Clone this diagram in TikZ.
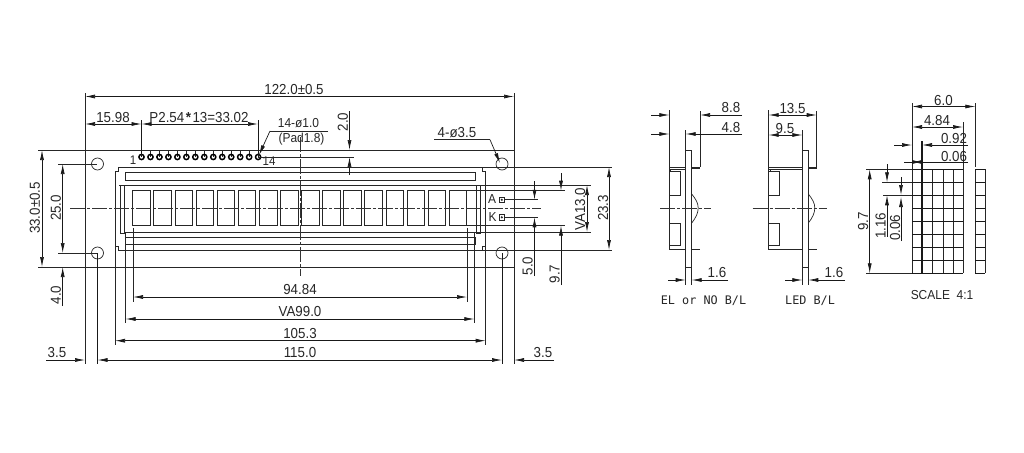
\documentclass[tikz,border=0pt]{standalone}
\usepackage{fontspec}
\setmainfont[FakeStretch=0.92]{Liberation Sans}
\newfontfamily\labelfont{DejaVu Sans Mono}
\usetikzlibrary {arrows.meta}
\tikzset{
  part/.style={line width=0.7pt, black!85},
  dimto/.style={line width=0.7pt, black!90, -{Latex[length=10pt,width=4pt]}},
  dimboth/.style={line width=0.7pt, black!90, {Latex[length=10pt,width=4pt]}-{Latex[length=10pt,width=4pt]}},
  centreline/.style={line width=0.6pt, black!80, dash pattern=on 15pt off 2pt on 3pt off 2pt},
  dimtext/.style={inner sep=0pt, black!85, font=\fontsize{14.5}{14.5}\selectfont},
  viewname/.style={inner sep=0pt, black!85, font=\labelfont\fontsize{11.8}{12}\selectfont}
}
\begin{document}
\begin{tikzpicture}[x=1pt,y=-1pt]
  \useasboundingbox (0,0) rectangle (1024,452);
  %front view
    \draw[part] (38,150) -- (514,150);
    \draw[part] (38,267) -- (514,267);
    \draw[part] (85,93) -- (85,364);
    \draw[part] (514,93) -- (514,364);
    \foreach \hx/\hy in {97.5/164, 502/164, 97.5/253, 502/253}
      \draw[part] (\hx,\hy) circle (6);
    \draw[part] (115,171) -- (118,171) -- (118,167) -- (612,167);
    \draw[part] (118,250) -- (118,246) -- (115,246) -- (115,171);
    \draw[part] (118,250) -- (612,250);
    \draw[part] (482,167) -- (482,171) -- (485.7,171) -- (485.7,246) -- (482,246) -- (482,250);
    \draw[part] (125.6,172) rectangle (475,180);
    \draw[part] (125.6,237) rectangle (475,244);
    \draw[part] (120,185) rectangle (124,233);
    \draw[part] (476,185) rectangle (480.5,233);
    \draw[part] (119,185) -- (591,185);
    \draw[part] (125.6,232) -- (591,232);
    \draw[part] (467,190.7) -- (565,190.7);
    \draw[part] (467,225.6) -- (565,225.6);
    \foreach \c in {0,...,15}
      \draw[part] ({132.7+\c*21.1},190.7) rectangle ++(17.6,34.9);
    \draw[centreline] (70,208) -- (541,208);
    \draw[centreline] (300,137) -- (300,276);
  %pins
    \foreach \p in {0,...,13} {
      \draw[part] ({141.5+\p*8.97},150) -- ++(0,7);
      \draw[line width=1.5pt, black] ({141.5+\p*8.97},157) circle (2.6);
    }
    \draw[part] (258,157) -- (354,157);
    \node[dimtext, font=\fontsize{12.5}{13}\selectfont] (pinfirst) at (133,160.5) {1};
    \node[dimtext, font=\fontsize{12.5}{13}\selectfont] (pinlast) at (269,161) {14};
  %backlight pads
    \node[dimtext, font=\fontsize{13}{13}\selectfont] (pada) at (492,199.5) {A};
    \node[dimtext, font=\fontsize{13}{13}\selectfont] (padk) at (492.5,217.5) {K};
    \foreach \py in {199.8, 217.3} {
      \draw[part] (499,\py-2.8) rectangle ++(5.6,5.6);
      \fill[black!85] (501.8,\py) circle (1.2);
      \draw[part] (504.6,\py) -- (538,\py);
    }
  %top dimensions
    \draw[dimboth] (85,96.5) -- (514,96.5);
    \node[dimtext] (lenall) at (294,89.5) {122.0±0.5};
    \draw[dimboth] (85,124) -- (141.5,124);
    \node[dimtext] (lenfirst) at (113,117.5) {15.98};
    \draw[dimboth] (141.5,124) -- (258,124);
    \node[dimtext] (lenpitch) at (199,117.5) {P2.54\kern1.5pt\textbf{*}\kern1.5pt13=33.02};
    \draw[line width=0.9pt, black!90] (141.5,120) -- (141.5,157);
    \draw[line width=0.9pt, black!90] (258,120) -- (258,157);
    \draw[part] (328,131) -- (270,131);
    \draw[dimto] (270,131) -- (259,155);
    \node[dimtext, font=\fontsize{13}{13}\selectfont] (padone) at (298.5,123.5) {14-ø1.0};
    \node[dimtext, font=\fontsize{13}{13}\selectfont] (padtwo) at (301.5,139.5) {(Pad1.8)};
    \draw[dimto] (349.5,111) -- (349.5,150);
    \draw[dimto] (349.5,175) -- (349.5,157);
    \node[dimtext, rotate=90] (lentop) at (343,122) {2.0};
    \draw[part] (434,139.7) -- (490,139.7);
    \draw[dimto] (490,139.7) -- (500,163);
    \node[dimtext] (lenhole) at (457,133) {4-ø3.5};
  %left dimensions
    \draw[part] (58,164) -- (97,164);
    \draw[part] (58,253) -- (97,253);
    \draw[dimboth] (42,150) -- (42,267);
    \node[dimtext, rotate=90] (lenheight) at (35,208) {33.0±0.5};
    \draw[dimboth] (62.7,164) -- (62.7,253);
    \node[dimtext, rotate=90] (lenholes) at (56,208) {25.0};
    \draw[dimto] (62.7,306) -- (62.7,267);
    \node[dimtext, rotate=90] (lenedge) at (56,295) {4.0};
  %bottom dimensions
    \draw[part] (133,228) -- (133,302);
    \draw[part] (467,228) -- (467,302);
    \draw[dimboth] (133,297) -- (467,297);
    \node[dimtext] (lenchars) at (300,290) {94.84};
    \draw[part] (125.6,232) -- (125.6,323);
    \draw[part] (474.3,232) -- (474.3,323);
    \draw[dimboth] (125.6,319) -- (474.3,319);
    \node[dimtext] (lenva) at (300,312) {VA99.0};
    \draw[part] (115,246) -- (115,345);
    \draw[part] (485.7,246) -- (485.7,345);
    \draw[dimboth] (115,340.7) -- (485.7,340.7);
    \node[dimtext] (lenframe) at (300,333.5) {105.3};
    \draw[line width=0.9pt, black!90] (97.5,253) -- (97.5,364);
    \draw[line width=1pt, black!90] (502,253) -- (502,364);
    \draw[dimboth] (97.5,360) -- (502,360);
    \node[dimtext] (lenpitchx) at (300,353) {115.0};
    \draw[dimto] (46,360) -- (85,360);
    \node[dimtext] (lenleft) at (57,353) {3.5};
    \draw[dimto] (554,360) -- (514,360);
    \node[dimtext] (lenright) at (543,353) {3.5};
  %right dimensions
    \draw[dimto] (534.5,181) -- (534.5,199.8);
    \draw[dimto] (534.5,276) -- (534.5,217.3);
    \node[dimtext, rotate=90] (lenk) at (527.5,266) {5.0};
    \draw[dimto] (561,173) -- (561,190.7);
    \draw[dimto] (561,285) -- (561,225.6);
    \node[dimtext, rotate=90] (lenvb) at (554.5,274) {9.7};
    \draw[dimboth] (587,185) -- (587,232);
    \node[dimtext, rotate=90] (lenvah) at (580,209) {VA13.0};
    \draw[dimboth] (609,167) -- (609,250);
    \node[dimtext, rotate=90] (lenframeh) at (603,208) {23.3};
  %side views
    \foreach \bx/\bl/\pr/\cl/\cr in {685.7/669.3/700/660/711, 802.3/768.7/816.7/752.7/826.7} {
      \draw[part] (\bx,150) rectangle ++(6,117.5);
      \draw[line width=0.9pt, black!85] (\bl,167) rectangle (\bx,169);
      \draw[line width=1.2pt, black!85] (\bx+6,168) -- (\pr,168);
      \draw[line width=1.2pt, black!85] (\bl,249.5) -- (\bx,249.5);
      \draw[line width=1.2pt, black!85] (\bx+6,249.5) -- (\pr,249.5);
      \draw[line width=0.9pt, black!85] (\bl,169) -- (\bl,249.5);
      \draw[part] (\bl,171.7) -- (\bl+10.6,171.7) -- (\bl+10.6,195) -- (\bl,195);
      \draw[part] (\bl,223) -- (\bl+10.6,223) -- (\bl+10.6,245) -- (\bl,245);
      \draw[part] (\bl+1.5,169) -- (\bl+1.5,171.7);
      \draw[part] (\bx+6,194) .. controls (\bx+10,199) and (\bx+12.5,203) .. (\bx+12.5,208) .. controls (\bx+12.5,213) and (\bx+10,218) .. (\bx+6,223);
      \draw[centreline] (\cl,208) -- (\cr,208);
      \draw[part] (\bx,267) -- (\bx,285);
      \draw[part] (\bx+6,267) -- (\bx+6,285);
      \draw[part] (\bl,110) -- (\bl,167);
      \draw[part] (\pr,111) -- (\pr,167);
      \draw[part] (\bx,130) -- (\bx,150);
    }
    \draw[dimto] (651,115) -- (669.3,115);
    \draw[dimto] (742,115) -- (700,115);
    \node[dimtext] (eldepth) at (731,108) {8.8};
    \draw[dimto] (651,134) -- (669.3,134);
    \draw[dimto] (742,134) -- (685.7,134);
    \node[dimtext] (elbody) at (731,128) {4.8};
    \draw[dimto] (668,280) -- (685.7,280);
    \draw[dimto] (728,280) -- (691.7,280);
    \node[dimtext] (elpcb) at (717,273) {1.6};
    \node[viewname] (elname) at (703.5,300.5) {EL or NO B/L};
    \draw[dimboth] (768.7,115) -- (816.7,115);
    \node[dimtext] (leddepth) at (792.5,109) {13.5};
    \draw[dimboth] (768.7,135) -- (802.3,135);
    \node[dimtext] (ledbody) at (785,128.5) {9.5};
    \draw[dimto] (785,280) -- (802.3,280);
    \draw[dimto] (845,280) -- (808.3,280);
    \node[dimtext] (ledpcb) at (834,273) {1.6};
    \node[viewname] (ledname) at (810,300.5) {LED B/L};
  %character detail
    \foreach \gx in {912,932.7,943,953,963,975.3,985}
      \draw[line width=1pt, black!85] (\gx,169.3) -- (\gx,273.3);
    \draw[line width=1.4pt, black!90] (922,141) -- (922,273.3);
    \foreach \r in {0,...,8} {
      \draw[line width=1.1pt, black!90] (912,{169.3+\r*13}) -- (963,{169.3+\r*13});
      \draw[line width=1.1pt, black!90] (975.3,{169.3+\r*13}) -- (985,{169.3+\r*13});
    }
    \draw[part] (912,103) -- (912,169.3);
    \draw[part] (975.3,103) -- (975.3,167);
    \draw[part] (963,122) -- (963,169.3);
    \draw[dimboth] (912,106.5) -- (975.3,106.5);
    \node[dimtext] (celltotal) at (943.5,101) {6.0};
    \draw[dimboth] (912,127) -- (963,127);
    \node[dimtext] (cellwide) at (937,121) {4.84};
    \draw[dimto] (894,145) -- (912,145);
    \draw[dimto] (968,145) -- (922,145);
    \node[dimtext] (cellpitch) at (954,139) {0.92};
    \draw[dimto] (904,162) -- (922,162);
    \draw[dimto] (968,162) -- (912,162);
    \node[dimtext] (cellgap) at (954,156.5) {0.06};
    \draw[part] (866,169.3) -- (912,169.3);
    \draw[part] (866,273.3) -- (912,273.3);
    \draw[part] (882,182.3) -- (912,182.3);
    \draw[part] (883,195.3) -- (912,195.3);
    \draw[dimboth] (869.7,169.3) -- (869.7,273.3);
    \node[dimtext, rotate=90] (cellhigh) at (863,221.5) {9.7};
    \draw[dimto] (887,164) -- (887,182.3);
    \draw[dimto] (887,236.5) -- (887,195.3);
    \node[dimtext, rotate=90] (cellrow) at (880.5,226) {1.16};
    \draw[dimto] (901,177) -- (901,195);
    \draw[dimto] (901,241) -- (901,197);
    \node[dimtext, rotate=90] (cellrowgap) at (895,228) {0.06};
    \node[dimtext, font=\fontsize{13}{13}\selectfont] (cellname) at (942,295) {SCALE\ \ 4:1};
\end{tikzpicture}
\end{document}
